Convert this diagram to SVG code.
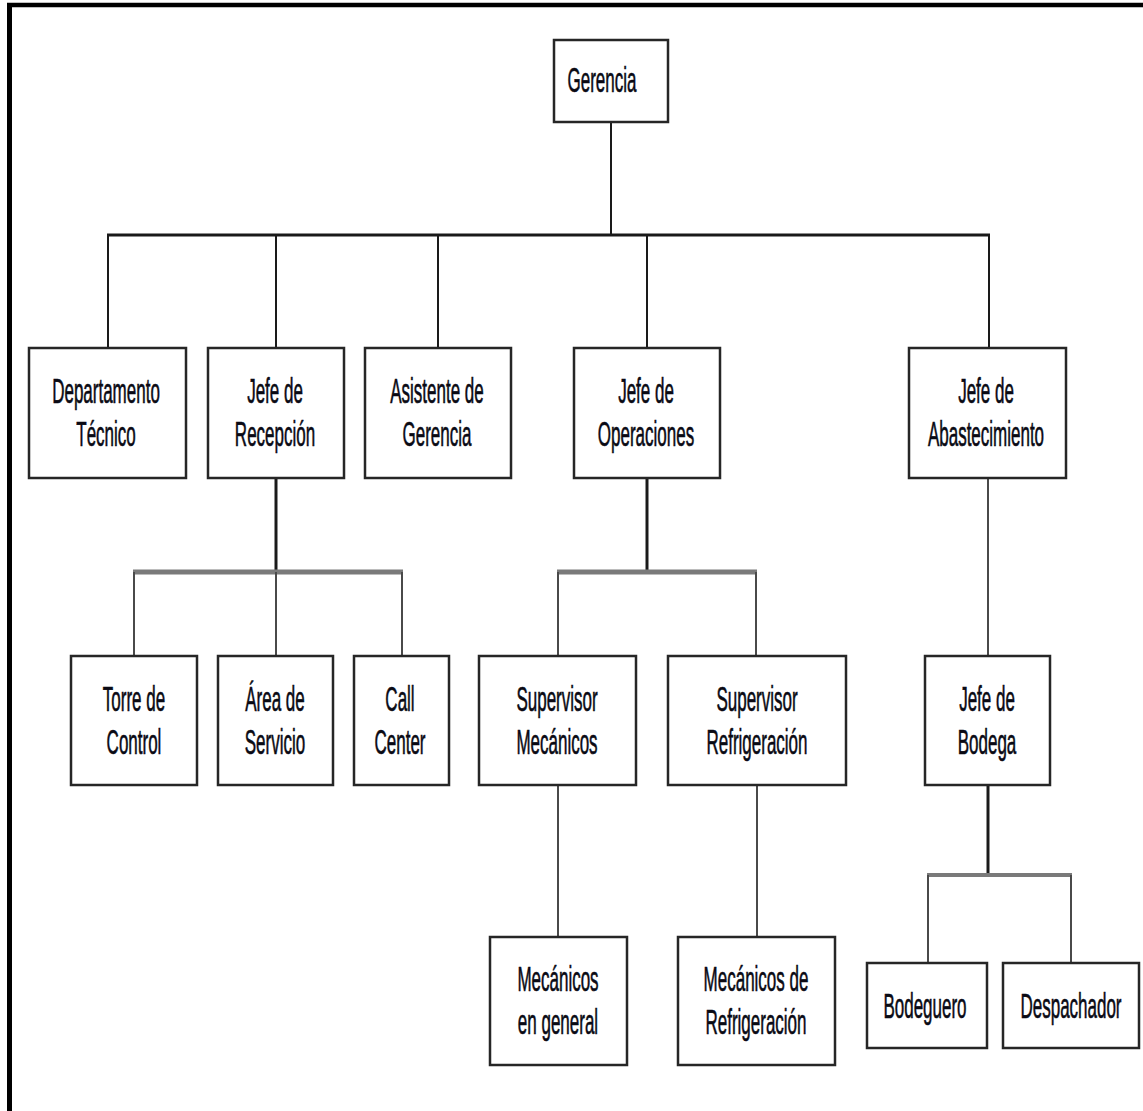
<svg xmlns="http://www.w3.org/2000/svg" width="1143" height="1111" viewBox="0 0 1143 1111">
  <style>
    .box { fill: #ffffff; stroke: #262626; stroke-width: 2.5; }
    .lbl { font-family: "Liberation Sans", Arial, sans-serif; font-size: 17px; fill: #0a0a14; stroke: #0a0a14; stroke-width: 0.3; text-anchor: middle; }
    .wire { stroke: #1a1a1a; stroke-width: 2; fill: none; }
    .bus { stroke: #1a1a1a; stroke-width: 3; fill: none; }
    .gbus { stroke: #7a7a7a; stroke-width: 5; fill: none; }
    .gdrop { stroke: #4a4a4a; stroke-width: 2; fill: none; }
  </style>

  <rect x="0" y="0" width="1143" height="1111" fill="#ffffff"/>
  <!-- page frame: top and left rules -->
  <line x1="7" y1="5" x2="1143" y2="5" stroke="#000" stroke-width="4.5"/>
  <line x1="9.5" y1="3" x2="9.5" y2="1111" stroke="#000" stroke-width="5"/>

  <g id="connectors">
    <!-- Gerencia to main bus -->
    <line class="wire" x1="611" y1="122" x2="611" y2="235"/>
    <line class="bus" x1="107" y1="235" x2="990" y2="235"/>
    <line class="wire" x1="108" y1="235" x2="108" y2="348"/>
    <line class="wire" x1="276" y1="235" x2="276" y2="348"/>
    <line class="wire" x1="438" y1="235" x2="438" y2="348"/>
    <line class="wire" x1="647" y1="235" x2="647" y2="348"/>
    <line class="wire" x1="989" y1="235" x2="989" y2="348"/>

    <!-- Jefe de Recepción branch -->
    <line class="bus" x1="276" y1="478" x2="276" y2="572"/>
    <line class="gbus" x1="133" y1="572" x2="403" y2="572"/>
    <line class="gdrop" x1="134" y1="572" x2="134" y2="656"/>
    <line class="gdrop" x1="276" y1="572" x2="276" y2="656"/>
    <line class="gdrop" x1="402" y1="572" x2="402" y2="656"/>

    <!-- Jefe de Operaciones branch -->
    <line class="bus" x1="647" y1="478" x2="647" y2="572"/>
    <line class="gbus" x1="557" y1="572" x2="757" y2="572"/>
    <line class="gdrop" x1="558" y1="572" x2="558" y2="656"/>
    <line class="gdrop" x1="756" y1="572" x2="756" y2="656"/>

    <!-- Supervisors to mechanics -->
    <line class="gdrop" x1="558" y1="785" x2="558" y2="937"/>
    <line class="gdrop" x1="757" y1="785" x2="757" y2="937"/>

    <!-- Jefe de Abastecimiento branch -->
    <line class="gdrop" x1="988" y1="478" x2="988" y2="656"/>
    <line class="bus" x1="988" y1="785" x2="988" y2="875"/>
    <line class="gbus" x1="927" y1="875" x2="1072" y2="875" style="stroke-width:4"/>
    <line class="gdrop" x1="928" y1="875" x2="928" y2="963"/>
    <line class="gdrop" x1="1071" y1="875" x2="1071" y2="963"/>
  </g>

  <g id="gerencia">
    <rect class="box" x="554" y="40" width="114" height="82"/>
    <text class="lbl" transform="translate(602,92) scale(1,2.1)">Gerencia</text>
  </g>

  <g id="departamento-tecnico">
    <rect class="box" x="29" y="348" width="157" height="130"/>
    <text class="lbl" transform="translate(106,403) scale(1,2.1)">Departamento</text>
    <text class="lbl" transform="translate(106,446) scale(1,2.1)">Técnico</text>
  </g>

  <g id="jefe-recepcion">
    <rect class="box" x="208" y="348" width="136" height="130"/>
    <text class="lbl" transform="translate(275,403) scale(1,2.1)">Jefe de</text>
    <text class="lbl" transform="translate(275,446) scale(1,2.1)">Recepción</text>
  </g>

  <g id="asistente-gerencia">
    <rect class="box" x="365" y="348" width="146" height="130"/>
    <text class="lbl" transform="translate(437,403) scale(1,2.1)">Asistente de</text>
    <text class="lbl" transform="translate(437,446) scale(1,2.1)">Gerencia</text>
  </g>

  <g id="jefe-operaciones">
    <rect class="box" x="574" y="348" width="146" height="130"/>
    <text class="lbl" transform="translate(646,403) scale(1,2.1)">Jefe de</text>
    <text class="lbl" transform="translate(646,446) scale(1,2.1)">Operaciones</text>
  </g>

  <g id="jefe-abastecimiento">
    <rect class="box" x="909" y="348" width="157" height="130"/>
    <text class="lbl" transform="translate(986,403) scale(1,2.1)">Jefe de</text>
    <text class="lbl" transform="translate(986,446) scale(1,2.1)">Abastecimiento</text>
  </g>

  <g id="torre-control">
    <rect class="box" x="71" y="656" width="126" height="129"/>
    <text class="lbl" transform="translate(134,711) scale(1,2.1)">Torre de</text>
    <text class="lbl" transform="translate(134,754) scale(1,2.1)">Control</text>
  </g>

  <g id="area-servicio">
    <rect class="box" x="218" y="656" width="115" height="129"/>
    <text class="lbl" transform="translate(275,711) scale(1,2.1)">Área de</text>
    <text class="lbl" transform="translate(275,754) scale(1,2.1)">Servicio</text>
  </g>

  <g id="call-center">
    <rect class="box" x="354" y="656" width="95" height="129"/>
    <text class="lbl" transform="translate(400,711) scale(1,2.1)">Call</text>
    <text class="lbl" transform="translate(400,754) scale(1,2.1)">Center</text>
  </g>

  <g id="supervisor-mecanicos">
    <rect class="box" x="479" y="656" width="157" height="129"/>
    <text class="lbl" transform="translate(557,711) scale(1,2.1)">Supervisor</text>
    <text class="lbl" transform="translate(557,754) scale(1,2.1)">Mecánicos</text>
  </g>

  <g id="supervisor-refrigeracion">
    <rect class="box" x="668" y="656" width="178" height="129"/>
    <text class="lbl" transform="translate(757,711) scale(1,2.1)">Supervisor</text>
    <text class="lbl" transform="translate(757,754) scale(1,2.1)">Refrigeración</text>
  </g>

  <g id="jefe-bodega">
    <rect class="box" x="925" y="656" width="125" height="129"/>
    <text class="lbl" transform="translate(987,711) scale(1,2.1)">Jefe de</text>
    <text class="lbl" transform="translate(987,754) scale(1,2.1)">Bodega</text>
  </g>

  <g id="mecanicos-general">
    <rect class="box" x="490" y="937" width="137" height="128"/>
    <text class="lbl" transform="translate(558,991) scale(1,2.1)">Mecánicos</text>
    <text class="lbl" transform="translate(558,1034) scale(1,2.1)">en general</text>
  </g>

  <g id="mecanicos-refrigeracion">
    <rect class="box" x="678" y="937" width="157" height="128"/>
    <text class="lbl" transform="translate(756,991) scale(1,2.1)">Mecánicos de</text>
    <text class="lbl" transform="translate(756,1034) scale(1,2.1)">Refrigeración</text>
  </g>

  <g id="bodeguero">
    <rect class="box" x="867" y="963" width="120" height="85"/>
    <text class="lbl" transform="translate(925,1018) scale(1,2.1)">Bodeguero</text>
  </g>

  <g id="despachador">
    <rect class="box" x="1003" y="963" width="136" height="85"/>
    <text class="lbl" transform="translate(1071,1018) scale(1,2.1)">Despachador</text>
  </g>
</svg>
